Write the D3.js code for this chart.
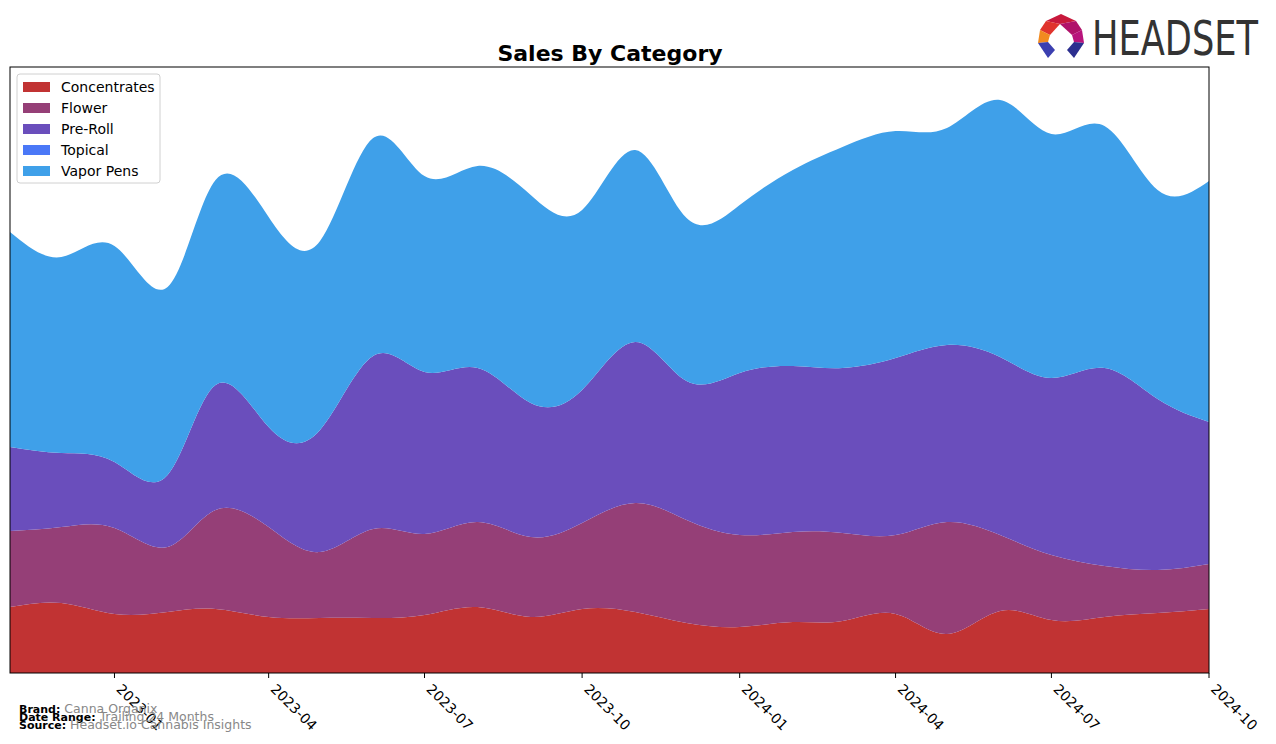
<!DOCTYPE html>
<html>
<head>
<meta charset="utf-8">
<script src="https://cdn.jsdelivr.net/npm/d3@7"></script>
<style>
  body{margin:0;background:#fff;}
  svg{font-family:"DejaVu Sans",sans-serif;}
</style>
</head>
<body>
<svg id="chart" width="1276" height="744"></svg>
<script>
// monthly sales, stacked bottom to top
const months = ['2022-11','2022-12','2023-01','2023-02','2023-03','2023-04','2023-05','2023-06','2023-07','2023-08','2023-09','2023-10',
                '2023-11','2023-12','2024-01','2024-02','2024-03','2024-04','2024-05','2024-06','2024-07','2024-08','2024-09','2024-10'];
const categories = ['Concentrates','Flower','Pre-Roll','Topical','Vapor Pens'];
const colors = ['#c13333','#953f77','#6a4ebc','#4a78f7','#3fa0e9'];

const concentrates = [66,70,59,61,64,56,55,55,58,66,56,64,61,50,46,51,52,59,39,62,53,56,60,64];
const flower = [76,76,86,65,99,90,66,89,81,85,80,86,109,103,92,90,88,79,112,76,65,51,43,45];
const preRoll = [84,74,66,72,125,100,122,173,162,154,134,133,161,139,162,166,165,177,177,178,177,198,171,142];
const topical = [0,0,0,0,0,0,0,0,0,0,0,0,0,0,0,0,0,0,0,0,0,0,0,0];
const vaporPens = [215,196,216,188,205,210,189,218,196,202,208,180,192,163,168,196,221,227,217,257,244,242,209,241];

const tickLabels = ['2023-01','2023-04','2023-07','2023-10','2024-01','2024-04','2024-07','2024-10'];

const svg = d3.select('#chart');
const margin = {left:10, top:67, right:1209, bottom:673};
const parse = d3.timeParse('%Y-%m');

let rows = [];
for(let i = 0; i < months.length; i++){
    rows.push({date: parse(months[i]), 'Concentrates': concentrates[i], 'Flower': flower[i],
        'Pre-Roll': preRoll[i], 'Topical': topical[i], 'Vapor Pens': vaporPens[i]});
}

const x = d3.scaleTime().domain(d3.extent(rows, d => d.date)).range([margin.left, margin.right]);
const y = d3.scaleLinear().domain([0, 606]).range([margin.bottom, margin.top]);

const stack = d3.stack().keys(categories);
const series = stack(rows);

const area = d3.area()
    .x(d => x(d.data.date))
    .y0(d => y(d[0]))
    .y1(d => y(d[1]))
    .curve(d3.curveNatural);

svg.append('defs').append('clipPath').attr('id','plotclip')
    .append('rect').attr('x', margin.left).attr('y', margin.top)
    .attr('width', margin.right - margin.left).attr('height', margin.bottom - margin.top);

svg.append('g').attr('clip-path','url(#plotclip)')
    .selectAll('path').data(series).enter().append('path')
    .attr('d', area)
    .style('fill', (d, i) => colors[i])
    .style('stroke', 'none');

// frame
svg.append('rect').attr('x', margin.left).attr('y', margin.top)
    .attr('width', margin.right - margin.left).attr('height', margin.bottom - margin.top)
    .style('fill','none').style('stroke','black').style('stroke-width',1);

// x axis
const xAxis = svg.append('g').attr('transform', 'translate(0,' + margin.bottom + ')');
const ticks = xAxis.selectAll('g.tick').data(tickLabels).enter().append('g')
    .attr('transform', d => 'translate(' + x(parse(d)) + ',0)');
ticks.append('line').attr('y1', 0).attr('y2', 5).style('stroke','black');
ticks.append('text').text(d => d)
    .attr('transform', 'translate(9,9) rotate(45)')
    .attr('dy', '0.8em')
    .style('font-size','14px').style('fill','#000');

// title
svg.append('text').attr('x', 610).attr('y', 61).attr('text-anchor','middle')
    .style('font-size','22px').style('font-weight','bold').text('Sales By Category');

// legend
const legend = svg.append('g');
legend.append('rect').attr('x', 17).attr('y', 74).attr('width', 143).attr('height', 109)
    .attr('rx', 3).style('fill','white').style('stroke','#d0d0d0');
const items = legend.selectAll('g.item').data(categories).enter().append('g')
    .attr('transform', (d, i) => 'translate(0,' + (87 + i * 21) + ')');
items.append('rect').attr('x', 23).attr('y', -5).attr('width', 27).attr('height', 10)
    .style('fill', (d, i) => colors[i]);
items.append('text').attr('x', 61).attr('y', 5).style('font-size','14px').text(d => d);

// footer
const foot = [['Brand:','Canna Organix',713],['Date Range:','Trailing 24 Months',721],['Source:','Headset.io Cannabis Insights',729]];
foot.forEach(f => {
    const t = svg.append('text').attr('x', 19).attr('y', f[2]).style('font-size','11px');
    t.append('tspan').style('font-weight','bold').style('fill','#000').text(f[0]);
    t.append('tspan').style('fill','#888').style('font-size','12.5px').text(' ' + f[1]);
});

// logo
const logo = svg.append('g');
logo.append('polygon').attr('points','1061,14 1076,21 1060,24 1046,21').style('fill','#c8193c');
logo.append('polygon').attr('points','1046,21 1060,24 1050,35 1040,30').style('fill','#e0342d');
logo.append('polygon').attr('points','1040,30 1050,35 1048,42 1038,43').style('fill','#f28a1f');
logo.append('polygon').attr('points','1076,21 1082,30 1072,35 1060,24').style('fill','#b0126a');
logo.append('polygon').attr('points','1082,30 1084,43 1074,42 1072,35').style('fill','#b8147c');
logo.append('polygon').attr('points','1038,43 1048,42 1055,50 1048,58').style('fill','#3b3fb0');
logo.append('polygon').attr('points','1084,43 1074,42 1067,50 1074,58').style('fill','#2c2f8f');
logo.append('text').attr('x', 1092).attr('y', 55).attr('textLength', 166).attr('lengthAdjust','spacingAndGlyphs')
    .style('font-family','"Liberation Sans Narrow","DejaVu Sans Condensed",sans-serif')
    .style('font-size','48px').style('fill','#333').text('HEADSET');
</script>
</body>
</html>
